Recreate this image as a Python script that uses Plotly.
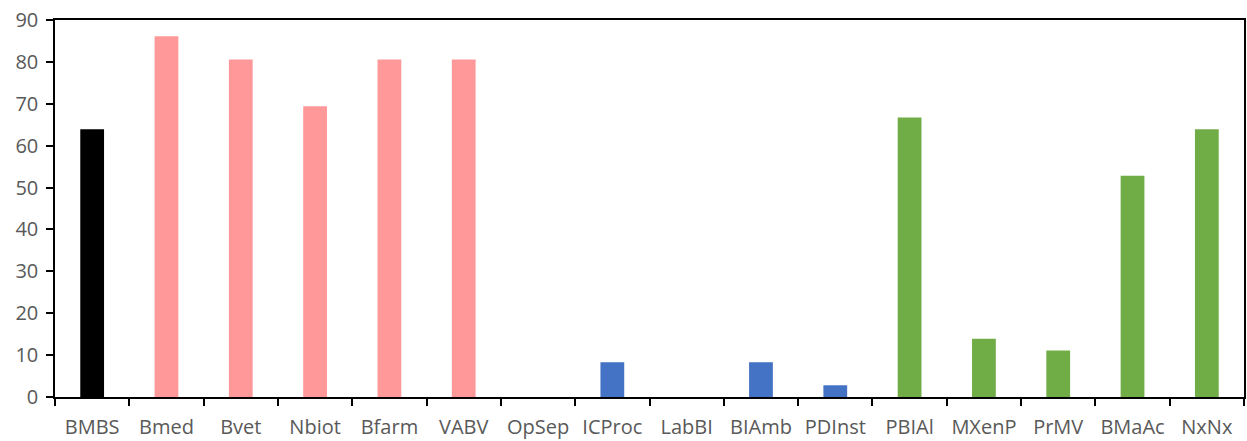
import plotly.graph_objects as go

categories = ["BMBS", "Bmed", "Bvet", "Nbiot", "Bfarm", "VABV", "OpSep", "ICProc",
              "LabBI", "BIAmb", "PDInst", "PBIAl", "MXenP", "PrMV", "BMaAc", "NxNx"]
values = [63.9, 86.1, 80.6, 69.4, 80.6, 80.6, 0, 8.3,
          0, 8.3, 2.8, 66.7, 13.9, 11.1, 52.8, 63.9]
colors = ["#000000", "#FF9999", "#FF9999", "#FF9999", "#FF9999", "#FF9999",
          "#4472C4", "#4472C4", "#4472C4", "#4472C4", "#4472C4",
          "#70AD47", "#70AD47", "#70AD47", "#70AD47", "#70AD47"]
y_ticks = [0, 10, 20, 30, 40, 50, 60, 70, 80, 90]

fig = go.Figure(go.Bar(x=categories, y=values, marker=dict(color=colors, line=dict(width=0)),
                       hoverinfo="x+y"))

font = dict(family="Open Sans, Liberation Sans, sans-serif", size=20, color="#595959")
fig.update_layout(
    width=1247, height=441,
    margin=dict(l=55, r=3, t=20, b=44),
    paper_bgcolor="white", plot_bgcolor="white",
    bargap=0.68,
    showlegend=False,
    font=font,
)
fig.update_xaxes(
    automargin=False, tickangle=0,
    showline=True, linecolor="black", linewidth=1.5, mirror=True,
    ticks="outside", tickson="boundaries", ticklen=7, tickcolor="black", tickwidth=1.5,
    ticklabelstandoff=11, ticklabeloverflow="allow",
    showgrid=False, tickfont=font,
)
fig.update_yaxes(
    automargin=False,
    range=[0, 90], tickvals=y_ticks,
    showline=True, linecolor="black", linewidth=1.5, mirror=True,
    ticks="outside", ticklen=7, tickcolor="black", tickwidth=1.5,
    ticklabelstandoff=4, ticklabeloverflow="allow",
    showgrid=False, zeroline=False, tickfont=font,
)
fig.write_html("out.html",
               config={"displayModeBar": False},
               post_script="document.body.style.margin='0';document.body.style.overflow='hidden';")
